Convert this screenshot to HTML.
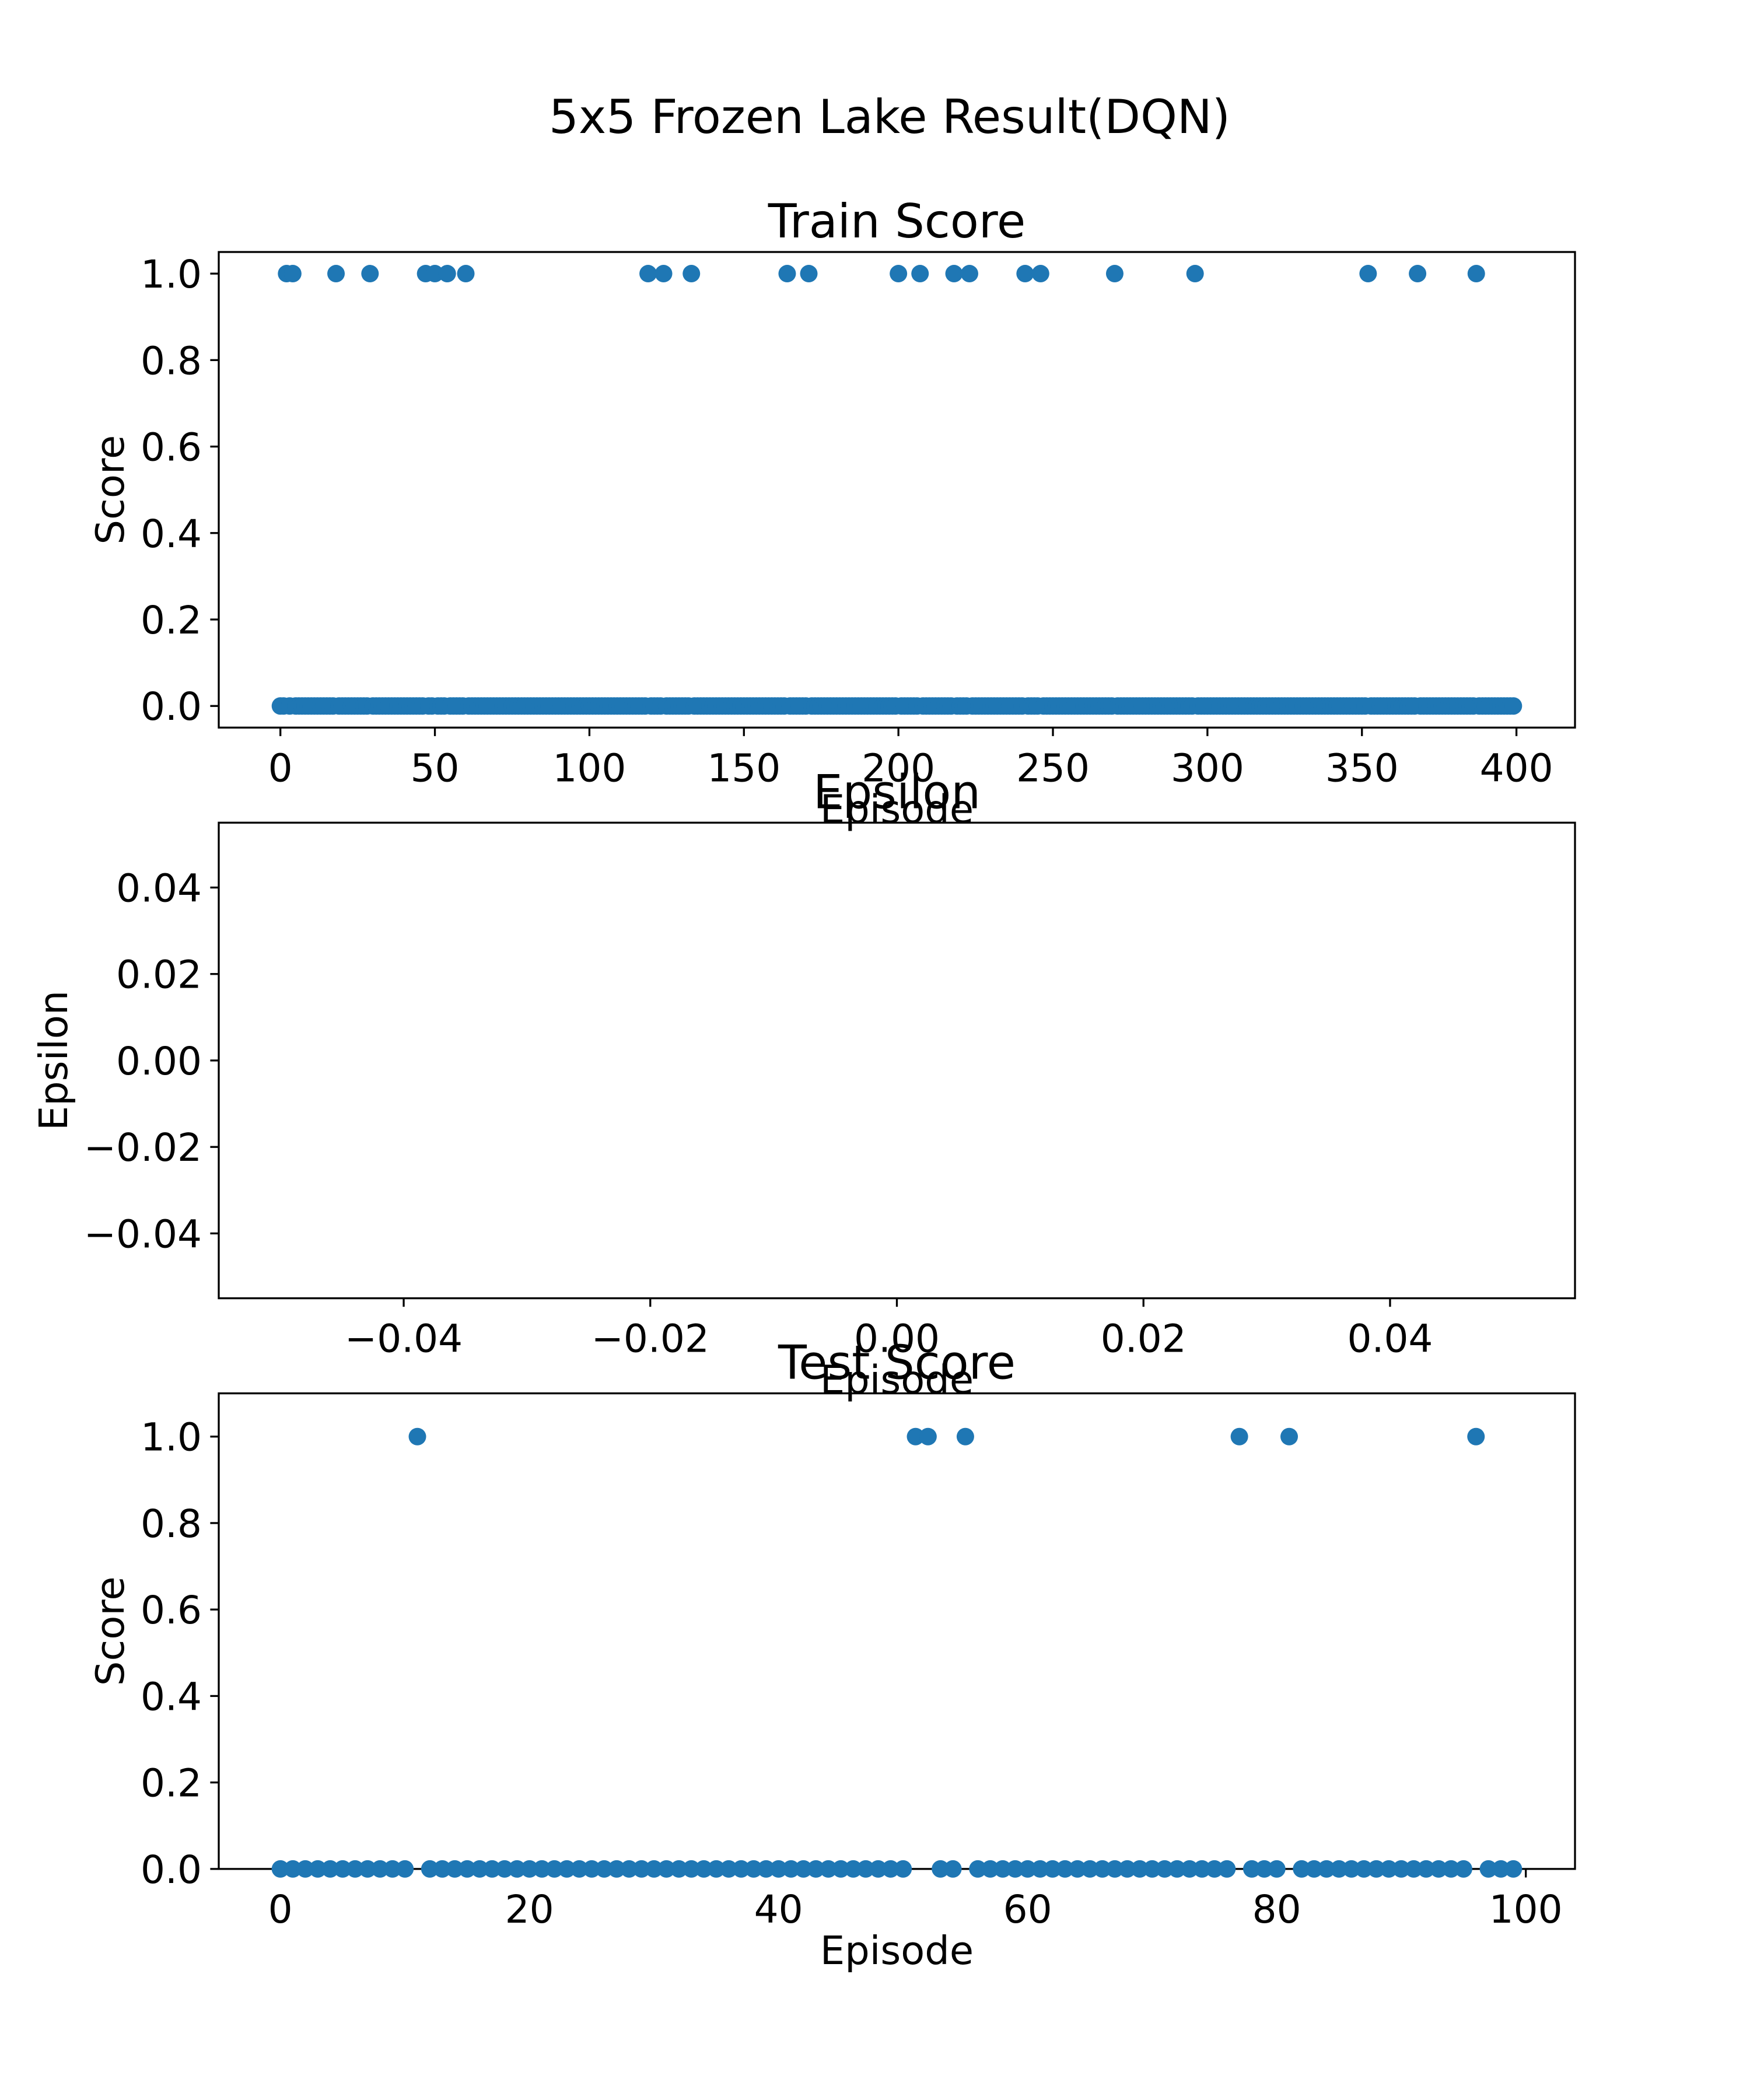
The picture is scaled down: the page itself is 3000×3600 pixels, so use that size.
<!DOCTYPE html>
<html><head><meta charset="utf-8"><style>
html,body{margin:0;padding:0;background:#fff}
svg{display:block}
text{font-family:"DejaVu Sans","Liberation Sans",sans-serif;fill:#000}
</style></head><body>
<svg id="fig" width="3000" height="3600" viewBox="0 0 3000 3600" xmlns="http://www.w3.org/2000/svg">
<rect width="3000" height="3600" fill="#fff"/>
<text x="1525" y="228" font-size="80" text-anchor="middle">5x5 Frozen Lake Result(DQN)</text>
<g id="g"></g>
</svg>
<script>
const trainSuccessEpisodes = [2,4,18,29,47,50,54,60,119,124,133,164,171,200,207,218,223,241,246,270,296,352,368,387];
const trainEpisodeCount = 400;
const testSuccessEpisodes = [11,51,52,55,77,81,96];
const testEpisodeCount = 100;
const trainXTicks = [0,50,100,150,200,250,300,350,400];
const scoreYTicks = [0,0.2,0.4,0.6,0.8,1.0];
const epsTicks = [-0.04,-0.02,0,0.02,0.04];
const testXTicks = [0,20,40,60,80,100];

const NS="http://www.w3.org/2000/svg";
const G=document.getElementById('g');
function el(tag,attrs,parent){const e=document.createElementNS(NS,tag);for(const k in attrs)e.setAttribute(k,attrs[k]);(parent||G).appendChild(e);return e;}
const L=375,R=2700,H=815.3;
const tops=[432,432+H+163,432+2*(H+163)];
function fmt(v,d){let s=v.toFixed(d);if(v<-1e-9)s='\u2212'+s.slice(1);if(Math.abs(v)<1e-9)s=(0).toFixed(d);return s;}
function axes(i,xmin,xmax,ymin,ymax,xt,xd,yt,yd,title,ylabel,ylx,name){
  const T=tops[i],B=T+H;
  const g=el('g',{});
  
  
  const sx=v=>L+(v-xmin)/(xmax-xmin)*(R-L);
  const sy=v=>B-(v-ymin)/(ymax-ymin)*(B-T);
  xt.forEach(v=>{const x=sx(v);
    const t=el('line',{x1:x,x2:x,y1:B,y2:B+14.6,stroke:'#000','stroke-width':3.3},g);
    
    const tx=el('text',{x:x,y:B+92,'font-size':66,'text-anchor':'middle'},g);tx.textContent=fmt(v,xd);
    });
  yt.forEach(v=>{const y=sy(v);
    const t=el('line',{x1:L,x2:L-14.6,y1:y,y2:y,stroke:'#000','stroke-width':3.3},g);
    
    const tx=el('text',{x:L-29,y:y+24,'font-size':66,'text-anchor':'end'},g);tx.textContent=fmt(v,yd);
    });
  const fr=el('rect',{x:L,y:T,width:R-L,height:H,fill:'none',stroke:'#000','stroke-width':3.3},g);
  
  const tt=el('text',{x:(L+R)/2,y:T-25,'font-size':80,'text-anchor':'middle'},g);tt.textContent=title;
  
  const xl=el('text',{x:(L+R)/2,y:B+163,'font-size':67,'text-anchor':'middle'},g);xl.textContent='Episode';
  
  const cy=(T+B)/2;
  const yl=el('text',{x:ylx,y:cy,'font-size':67,'text-anchor':'middle',transform:`rotate(-90 ${ylx} ${cy})`},g);yl.textContent=ylabel;
  
  return {g,sx,sy};
}
function scatter(ax,n,succ){
  for(let k=0;k<n;k++){const v=succ.includes(k)?1:0;
    const c=el('circle',{cx:ax.sx(k),cy:ax.sy(v),r:15,fill:'#1f77b4'},ax.g);
    
    }
}
const a1=axes(0,-19.95,418.95,-0.05,1.05,trainXTicks,0,scoreYTicks,1,'Train Score','Score',212,'train-score-axes');
scatter(a1,trainEpisodeCount,trainSuccessEpisodes);
axes(1,-0.055,0.055,-0.055,0.055,epsTicks,2,epsTicks,2,'Epsilon','Epsilon',115,'epsilon-axes');
const a3=axes(2,-4.95,103.95,0,1.1,testXTicks,0,scoreYTicks,1,'Test Score','Score',212,'test-score-axes');
scatter(a3,testEpisodeCount,testSuccessEpisodes);
</script>
</body></html>
